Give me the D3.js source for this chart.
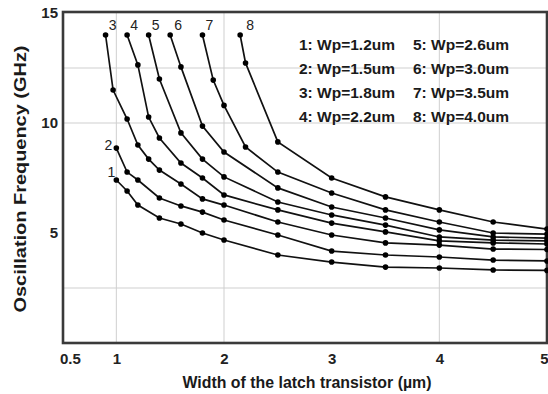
<!DOCTYPE html>
<html><head><meta charset="utf-8">
<script src="https://cdn.jsdelivr.net/npm/d3@7"></script>
<style>body{margin:0;background:#fff} svg{display:block}</style>
</head><body>
<svg id="c" width="548" height="394"></svg>
<script>
// ---- data ----
const xTicks = [0.5, 1, 2, 3, 4, 5];
const yTicks = [5, 10, 15];
const xGrid = [1, 2, 4];
const yGrid = [2.5, 10, 12.5];
const curveNames = ["1", "2", "3", "4", "5", "6", "7", "8"];
const legendLabels = ["1: Wp=1.2um", "2: Wp=1.5um", "3: Wp=1.8um", "4: Wp=2.2um",
                      "5: Wp=2.6um", "6: Wp=3.0um", "7: Wp=3.5um", "8: Wp=4.0um"];
const curve1 = [[1.0,7.41],[1.1,6.91],[1.2,6.27],[1.4,5.68],[1.6,5.41],[1.8,5.0],[2.0,4.68],[2.5,4.0],[3.0,3.68],[3.5,3.45],[4.0,3.41],[4.5,3.32],[5.0,3.3]];
const curve2 = [[1.0,8.86],[1.1,7.77],[1.2,7.41],[1.4,6.59],[1.6,6.23],[1.8,5.95],[2.0,5.59],[2.5,4.91],[3.0,4.18],[3.5,4.0],[4.0,3.91],[4.5,3.77],[5.0,3.73]];
const curve3 = [[0.9,14.0],[0.97,11.5],[1.1,10.18],[1.2,9.0],[1.3,8.36],[1.4,7.86],[1.6,7.23],[1.8,6.55],[2.0,6.27],[2.5,5.5],[3.0,4.91],[3.5,4.55],[4.0,4.45],[4.5,4.27],[5.0,4.25]];
const curve4 = [[1.1,14.0],[1.2,12.64],[1.3,10.27],[1.4,9.32],[1.6,8.18],[1.8,7.5],[2.0,6.73],[2.5,6.05],[3.0,5.45],[3.5,5.05],[4.0,4.64],[4.5,4.55],[5.0,4.5]];
const curve5 = [[1.3,14.0],[1.4,12.0],[1.6,9.55],[1.8,8.36],[2.0,7.55],[2.5,6.41],[3.0,5.82],[3.5,5.36],[4.0,4.82],[4.5,4.68],[5.0,4.64]];
const curve6 = [[1.5,14.0],[1.6,12.55],[1.8,9.86],[2.0,8.68],[2.5,7.05],[3.0,6.18],[3.5,5.68],[4.0,5.14],[4.5,4.82],[5.0,4.77]];
const curve7 = [[1.8,14.0],[1.9,11.95],[2.0,10.8],[2.2,8.91],[2.5,7.77],[3.0,6.82],[3.5,6.05],[4.0,5.5],[4.5,5.0],[5.0,4.95]];
const curve8 = [[2.15,14.0],[2.2,12.73],[2.5,9.14],[3.0,7.5],[3.5,6.64],[4.0,6.05],[4.5,5.5],[5.0,5.18]];
const curves = [curve1, curve2, curve3, curve4, curve5, curve6, curve7, curve8];

// ---- drawing ----
const svg = d3.select("#c");
const x = d3.scaleLinear().domain([0.5, 5]).range([62.5, 547]);
const y = d3.scaleLinear().domain([0, 15]).range([343, 13]);
const font = "'Liberation Sans', Arial, sans-serif";

// grid
svg.append("g").selectAll("line").data(xGrid).join("line")
  .attr("x1", d => x(d)).attr("x2", d => x(d)).attr("y1", 13).attr("y2", 343)
  .attr("stroke", "#cfcfcf").attr("stroke-width", 1);
svg.append("g").selectAll("line").data(yGrid).join("line")
  .attr("x1", 63).attr("x2", 547).attr("y1", d => y(d)).attr("y2", d => y(d))
  .attr("stroke", "#cfcfcf").attr("stroke-width", 1);

// frame
svg.append("rect").attr("x", 63).attr("y", 12).attr("width", 484).attr("height", 331)
  .attr("fill", "none").attr("stroke", "#3a3a3a").attr("stroke-width", 2.6);

// axes tick labels (via d3 axes, no tick lines)
const xAxis = d3.axisBottom(x).tickValues(xTicks).tickSize(0).tickPadding(10)
  .tickFormat(d => d === 0.5 ? "0.5" : d3.format("d")(d));
const gx = svg.append("g").attr("transform", "translate(0,343)").call(xAxis);
gx.select(".domain").remove();
gx.selectAll("text").attr("font-family", font).attr("font-weight", "bold")
  .attr("font-size", 15).attr("fill", "#222")
  .attr("text-anchor", d => d === 0.5 ? "start" : (d === 5 ? "end" : "middle"))
  .attr("dx", d => d === 0.5 ? -3 : (d === 5 ? 1 : 0));

const yAxis = d3.axisLeft(y).tickValues(yTicks).tickSize(0).tickPadding(5);
const gy = svg.append("g").attr("transform", "translate(63,0)").call(yAxis);
gy.select(".domain").remove();
gy.selectAll("text").attr("font-family", font).attr("font-weight", "bold")
  .attr("font-size", 15).attr("fill", "#222");

// curves
const line = d3.line().x(d => x(d[0])).y(d => y(d[1]));
const gc = svg.append("g");
curves.forEach((c, i) => {
  gc.append("path").datum(c).attr("d", line).attr("fill", "none")
    .attr("stroke", "#111").attr("stroke-width", 1.7);
  gc.append("g").selectAll("circle").data(c).join("circle")
    .attr("cx", d => x(d[0])).attr("cy", d => y(d[1])).attr("r", 2.8).attr("fill", "#000");
});

// curve number labels
const labOff = [[-5, -3], [-8, 2], [7, -5], [7, -5], [7, -5], [8, -5], [7, -5], [10, -5]];
svg.append("g").selectAll("text").data(curves).join("text")
  .attr("x", (c, i) => x(c[0][0]) + labOff[i][0])
  .attr("y", (c, i) => y(c[0][1]) + labOff[i][1])
  .attr("text-anchor", "middle").attr("font-family", font).attr("font-size", 14)
  .attr("fill", "#222").text((c, i) => curveNames[i]);

// legend
svg.append("g").selectAll("text").data(legendLabels).join("text")
  .attr("x", (d, i) => i < 4 ? 299 : 413)
  .attr("y", (d, i) => 50 + (i % 4) * 24)
  .attr("font-family", font).attr("font-weight", "bold").attr("font-size", 15.5)
  .attr("fill", "#1a1a1a").text(d => d);

// axis titles
svg.append("text").attr("x", 307).attr("y", 388).attr("text-anchor", "middle")
  .attr("font-family", font).attr("font-weight", "bold").attr("font-size", 16)
  .attr("textLength", 249).attr("lengthAdjust", "spacingAndGlyphs")
  .attr("fill", "#1a1a1a").text("Width of the latch transistor (\u00b5m)");
svg.append("text").attr("transform", "translate(26,179) rotate(-90)")
  .attr("text-anchor", "middle")
  .attr("font-family", font).attr("font-weight", "bold").attr("font-size", 16)
  .attr("textLength", 267).attr("lengthAdjust", "spacingAndGlyphs")
  .attr("fill", "#1a1a1a").text("Oscillation Frequency (GHz)");
</script>
</body></html>
